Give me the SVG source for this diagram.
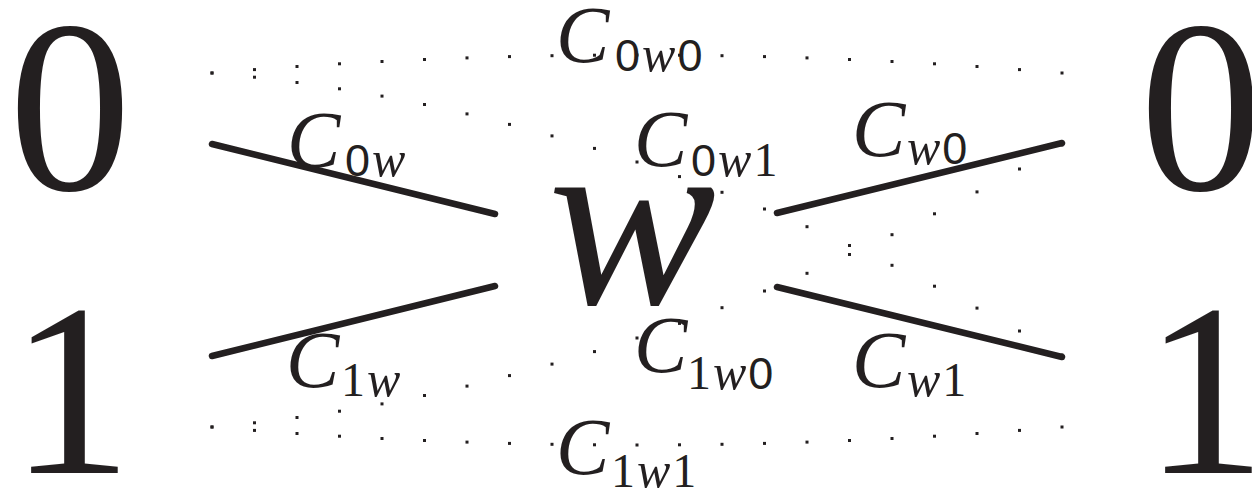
<svg xmlns="http://www.w3.org/2000/svg" width="1252" height="494" viewBox="0 0 1252 494">
<style>
.big{font-family:"Liberation Serif",serif;font-size:246px;fill:#231f20;text-anchor:middle}
.w{font-family:"Liberation Serif",serif;font-style:italic;font-size:252px;fill:#231f20}
.C{font-family:"Liberation Serif",serif;font-style:italic;font-size:80px;fill:#231f20}
.sub{font-size:50px;fill:#231f20;letter-spacing:2px}
.d0{font-family:"Liberation Sans",sans-serif;font-style:normal;font-size:45px}
.d1{font-family:"Liberation Serif",serif;font-style:normal;font-size:48px}
.i{font-family:"Liberation Serif",serif;font-style:italic;font-size:50px}
.edge{stroke:#231f20;stroke-width:6.5;stroke-linecap:round;fill:none}
.dots{fill:none;stroke:none;marker-start:url(#dot);marker-mid:url(#dot);marker-end:url(#dot)}
</style>
<defs>
<marker id="dot" markerUnits="userSpaceOnUse" markerWidth="4" markerHeight="4" refX="2" refY="2" viewBox="0 0 4 4" orient="0">
<rect x="0.5" y="0.5" width="3" height="3" fill="#231f20"/>
</marker>
</defs>
<g id="connectors">
<polyline id="p0w0" class="dots" points="212,73 254.5,69.6 297,66.5 339.5,63.8 382,61.5 424.5,59.5 467,57.9 509.5,56.6 552,55.7 594.5,55.2 637,55 679.5,55.2 722,55.7 764.5,56.6 807,57.9 849.5,59.5 892,61.5 934.5,63.8 977,66.5 1019.5,69.6 1062,73"/>
<polyline id="p0w1" class="dots" points="212,73 254.5,77.2 297,82.5 339.5,88.8 382,96.1 424.5,104.5 467,113.9 509.5,124.4 552,135.9 594.5,148.4 637,162 679.5,176.6 722,192.3 764.5,209 807,226.7 849.5,245.5 892,265.3 934.5,286.2 977,308.1 1019.5,331 1062,355"/>
<polyline id="p1w0" class="dots" points="212,427 254.5,422.8 297,417.5 339.5,411.2 382,403.9 424.5,395.5 467,386.1 509.5,375.6 552,364.1 594.5,351.6 637,338 679.5,323.4 722,307.7 764.5,291 807,273.3 849.5,254.5 892,234.7 934.5,213.8 977,191.9 1019.5,169 1062,145"/>
<polyline id="p1w1" class="dots" points="212,427 254.5,430.4 297,433.5 339.5,436.2 382,438.5 424.5,440.5 467,442.1 509.5,443.4 552,444.3 594.5,444.8 637,445 679.5,444.8 722,444.3 764.5,443.4 807,442.1 849.5,440.5 892,438.5 934.5,436.2 977,433.5 1019.5,430.4 1062,427"/>
<line class="edge" x1="212" y1="144" x2="495" y2="214"/>
<line class="edge" x1="212" y1="356" x2="495" y2="286"/>
<line class="edge" x1="777" y1="213" x2="1062" y2="143"/>
<line class="edge" x1="777" y1="287" x2="1062" y2="357"/>
</g>
<g id="labels">
<g id="l0w0"><text class="C" x="556" y="62">C</text><text class="sub" x="615" y="71"><tspan class="d0">0</tspan><tspan class="i">w</tspan><tspan class="d0">0</tspan></text></g>
<g id="l0w1"><text class="C" x="634" y="166">C</text><text class="sub" x="691" y="176"><tspan class="d0">0</tspan><tspan class="i">w</tspan><tspan class="d1">1</tspan></text></g>
<g id="l0w"><text class="C" x="287" y="167">C</text><text class="sub" x="345" y="176"><tspan class="d0">0</tspan><tspan class="i">w</tspan></text></g>
<g id="lw0"><text class="C" x="852" y="156">C</text><text class="sub" x="907" y="164"><tspan class="i">w</tspan><tspan class="d0">0</tspan></text></g>
<g id="l1w"><text class="C" x="286" y="387">C</text><text class="sub" x="341" y="396"><tspan class="d1">1</tspan><tspan class="i">w</tspan></text></g>
<g id="lw1"><text class="C" x="852" y="387">C</text><text class="sub" x="907" y="396"><tspan class="i">w</tspan><tspan class="d1">1</tspan></text></g>
<g id="l1w0"><text class="C" x="634" y="372">C</text><text class="sub" x="687" y="389"><tspan class="d1">1</tspan><tspan class="i">w</tspan><tspan class="d0">0</tspan></text></g>
<g id="l1w1"><text class="C" x="556" y="474">C</text><text class="sub" x="611" y="487"><tspan class="d1">1</tspan><tspan class="i">w</tspan><tspan class="d1">1</tspan></text></g>
</g>
<g id="node-left0"><text class="big" x="70" y="190">0</text></g>
<g id="node-left1"><text class="big" x="71" y="473">1</text></g>
<g id="node-w"><text class="w" x="548" y="304">w</text></g>
<g id="node-right0"><text class="big" x="1201" y="190">0</text></g>
<g id="node-right1"><text class="big" x="1205" y="473">1</text></g>
</svg>
